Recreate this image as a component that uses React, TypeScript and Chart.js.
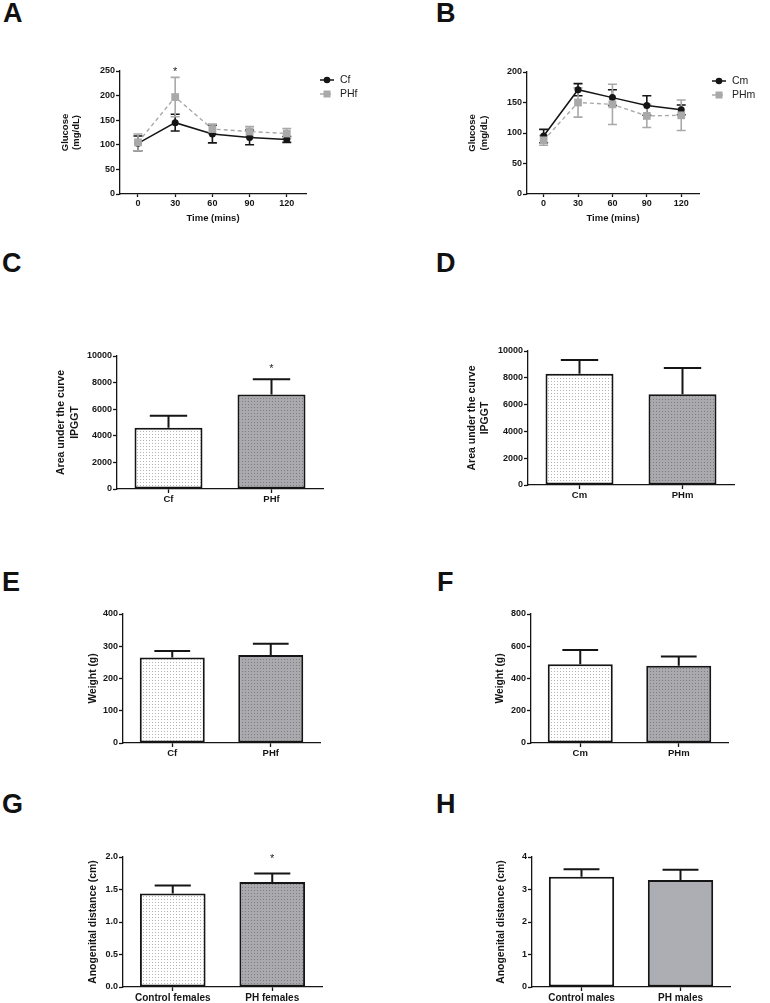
import React, { useEffect, useRef } from "react";
import { Chart, registerables } from "chart.js";
Chart.register(...registerables);

// ---------- data ----------
const TIMES = [0, 30, 60, 90, 120];

const CF_GLUCOSE = [103, 145, 122, 115, 111];
const CF_GLUCOSE_SEM = [15, 17, 18, 15, 6];
const PHF_GLUCOSE = [105, 197, 132, 127, 123];
const PHF_GLUCOSE_SEM = [17, 40, 10, 10, 10];
const PHF_GLUCOSE_SIG = [false, true, false, false, false];

const CM_GLUCOSE = [95, 171, 158, 145, 138];
const CM_GLUCOSE_SEM = [11, 10, 13, 16, 8];
const PHM_GLUCOSE = [88, 150, 147, 128, 129];
const PHM_GLUCOSE_SEM = [8, 24, 33, 19, 25];

const FEMALE_GROUPS = ["Cf", "PHf"];
const MALE_GROUPS = ["Cm", "PHm"];

const AUC_F = [4600, 7100];
const AUC_F_SEM = [900, 1150];
const AUC_F_SIG = [false, true];
const AUC_M = [8300, 6770];
const AUC_M_SEM = [1030, 1960];

const WEIGHT_F = [265, 273];
const WEIGHT_F_SEM = [20, 35];
const WEIGHT_M = [489, 479];
const WEIGHT_M_SEM = [87, 57];

const AGD_F_GROUPS = ["Control females", "PH females"];
const AGD_F = [1.44, 1.615];
const AGD_F_SEM = [0.12, 0.13];
const AGD_F_SIG = [false, true];
const AGD_M_GROUPS = ["Control males", "PH males"];
const AGD_M = [3.39, 3.29];
const AGD_M_SEM = [0.23, 0.32];

// ---------- style ----------
const FONT = "'Liberation Sans', Arial, Helvetica, sans-serif";
const INK = "#151515";
const GRAY = "#a9a9a9";
const PADL = 80;
const PADT = 22;
const PADB = 30;

type Area = { left: number; top: number; right: number; bottom: number };

function yAxis(max: number, step: number, title: any, titleSize: number, titlePad: number, fmt: (v: number) => string) {
  return {
    type: "linear",
    min: 0,
    max,
    ticks: {
      stepSize: step,
      color: INK,
      font: { family: FONT, size: 9, weight: "bold" },
      padding: 1,
      callback: (v: any) => fmt(Number(v)),
    },
    grid: { display: true, drawOnChartArea: false, drawTicks: true, tickLength: 4, tickWidth: 1.3, tickColor: INK },
    border: { display: true, color: INK, width: 1.3 },
    title: {
      display: true,
      text: title,
      color: INK,
      font: { family: FONT, size: titleSize, weight: "bold", lineHeight: 1.25 },
      padding: { top: titlePad, bottom: 0 },
    },
    afterFit: (s: any) => {
      s.width = PADL;
    },
  };
}

function catAxis(size: number) {
  return {
    type: "category",
    offset: true,
    ticks: { color: INK, font: { family: FONT, size, weight: "bold" }, padding: 1, maxRotation: 0, autoSkip: false },
    grid: { display: true, drawOnChartArea: false, offset: false, drawTicks: true, tickLength: 4, tickWidth: 1.3, tickColor: INK },
    border: { display: true, color: INK, width: 1.3 },
    afterFit: (s: any) => {
      s.height = PADB;
    },
  };
}

function timeAxis() {
  return {
    type: "linear",
    min: -14.5,
    max: 135.5,
    afterBuildTicks: (s: any) => {
      s.ticks = TIMES.map((v) => ({ value: v }));
    },
    ticks: { color: INK, font: { family: FONT, size: 9, weight: "bold" }, padding: 1 },
    grid: { display: true, drawOnChartArea: false, drawTicks: true, tickLength: 3, tickWidth: 1.3, tickColor: INK },
    border: { display: true, color: INK, width: 1.3 },
    title: {
      display: true,
      text: "Time (mins)",
      color: INK,
      font: { family: FONT, size: 9.5, weight: "bold", lineHeight: 1.25 },
      padding: { top: 0, bottom: 0 },
    },
    afterFit: (s: any) => {
      s.height = PADB;
    },
  };
}

function drawStar(ctx: any, x: number, cy: number) {
  const size = 11;
  ctx.save();
  ctx.fillStyle = "#222";
  ctx.font = `${size}px ${FONT}`;
  ctx.textAlign = "center";
  ctx.textBaseline = "alphabetic";
  ctx.fillText("*", x, cy + 0.57 * size);
  ctx.restore();
}

// error bars for bar charts (upper only) + asterisks
function barExtras(sem: number[], sig: boolean[] | null, starGap: number) {
  return {
    id: "barExtras",
    afterDatasetsDraw(chart: any) {
      const ctx = chart.ctx;
      const meta = chart.getDatasetMeta(0);
      const ys = chart.scales.y;
      const vals = chart.data.datasets[0].data;
      meta.data.forEach((el: any, i: number) => {
        const top = ys.getPixelForValue(vals[i] + sem[i]);
        const capW = el.width * 0.55;
        ctx.save();
        ctx.strokeStyle = INK;
        ctx.lineWidth = 2;
        ctx.beginPath();
        ctx.moveTo(el.x, el.y);
        ctx.lineTo(el.x, top);
        ctx.moveTo(el.x - capW / 2, top);
        ctx.lineTo(el.x + capW / 2, top);
        ctx.stroke();
        ctx.restore();
        if (sig && sig[i]) drawStar(ctx, el.x, top - starGap);
      });
    },
  };
}

// error bars for line charts (both directions), legend, asterisks
function lineExtras(sems: number[][], sig: boolean[] | null, sigSet: number, starGap: number, legendDx: number) {
  return {
    id: "lineExtras",
    beforeDatasetsDraw(chart: any) {
      const ctx = chart.ctx;
      const ys = chart.scales.y;
      chart.data.datasets.forEach((ds: any, di: number) => {
        const meta = chart.getDatasetMeta(di);
        ctx.save();
        ctx.strokeStyle = ds.borderColor;
        ctx.lineWidth = 1.6;
        meta.data.forEach((el: any, i: number) => {
          const v = ds.data[i].y;
          const hi = ys.getPixelForValue(v + sems[di][i]);
          const lo = ys.getPixelForValue(v - sems[di][i]);
          ctx.beginPath();
          ctx.moveTo(el.x, hi);
          ctx.lineTo(el.x, lo);
          ctx.moveTo(el.x - 4.5, hi);
          ctx.lineTo(el.x + 4.5, hi);
          ctx.moveTo(el.x - 4.5, lo);
          ctx.lineTo(el.x + 4.5, lo);
          ctx.stroke();
        });
        ctx.restore();
      });
    },
    afterDraw(chart: any) {
      const ctx = chart.ctx;
      const ys = chart.scales.y;
      const area = chart.chartArea;
      if (sig) {
        const ds = chart.data.datasets[sigSet];
        const meta = chart.getDatasetMeta(sigSet);
        meta.data.forEach((el: any, i: number) => {
          if (sig[i]) {
            const hi = ys.getPixelForValue(ds.data[i].y + sems[sigSet][i]);
            drawStar(ctx, el.x, hi - starGap);
          }
        });
      }
      chart.data.datasets.forEach((ds: any, di: number) => {
        const x0 = area.right + legendDx;
        const y = area.top + 9 + di * 14;
        ctx.save();
        ctx.strokeStyle = ds.borderColor;
        ctx.lineWidth = ds.borderWidth;
        ctx.setLineDash(ds.borderDash || []);
        ctx.beginPath();
        ctx.moveTo(x0, y);
        ctx.lineTo(x0 + 14, y);
        ctx.stroke();
        ctx.setLineDash([]);
        ctx.fillStyle = ds.borderColor;
        if (ds.pointStyle === "rect") {
          ctx.fillRect(x0 + 7 - 3.5, y - 3.5, 7, 7);
        } else {
          ctx.beginPath();
          ctx.arc(x0 + 7, y, 3.3, 0, Math.PI * 2);
          ctx.fill();
        }
        ctx.fillStyle = "#222";
        ctx.font = `10.5px ${FONT}`;
        ctx.textAlign = "left";
        ctx.textBaseline = "middle";
        ctx.fillText(ds.label, x0 + 20, y + 0.5);
        ctx.restore();
      });
    },
  };
}

function makePattern(ctx: any, bg: string, dot: string) {
  const c = document.createElement("canvas");
  c.width = 3;
  c.height = 3;
  const g = c.getContext("2d")!;
  g.fillStyle = bg;
  g.fillRect(0, 0, 3, 3);
  g.fillStyle = dot;
  g.fillRect(1, 1, 1, 1);
  return ctx.createPattern(c, "repeat");
}

function baseOptions(padR: number, scales: any) {
  return {
    responsive: false,
    maintainAspectRatio: false,
    animation: false,
    devicePixelRatio: 1,
    layout: { padding: { left: 0, top: PADT, right: padR, bottom: 0 } },
    plugins: { legend: { display: false }, tooltip: { enabled: false }, title: { display: false } },
    events: [],
    scales,
  };
}

type PanelDef = {
  area: Area;
  padR: number;
  build: (ctx: any) => any;
};

function lineBuild(labels: string[], c: number[], cSem: number[], p: number[], pSem: number[], max: number, sig: boolean[] | null, titlePad: number, legendDx: number) {
  return (_ctx: any) => ({
    type: "line",
    data: {
      datasets: [
        {
          label: labels[0],
          data: TIMES.map((t, i) => ({ x: t, y: c[i] })),
          borderColor: INK,
          backgroundColor: INK,
          borderWidth: 1.5,
          pointStyle: "circle",
          pointRadius: 3.5,
          pointBackgroundColor: INK,
          pointBorderColor: INK,
          pointBorderWidth: 0,
          tension: 0,
          order: 1,
        },
        {
          label: labels[1],
          data: TIMES.map((t, i) => ({ x: t, y: p[i] })),
          borderColor: GRAY,
          backgroundColor: GRAY,
          borderWidth: 1.4,
          borderDash: [4, 3],
          pointStyle: "rect",
          pointRadius: 5.5,
          pointBackgroundColor: GRAY,
          pointBorderColor: GRAY,
          pointBorderWidth: 0,
          tension: 0,
          order: 0,
        },
      ],
    },
    options: baseOptions(70, {
      x: timeAxis(),
      y: yAxis(max, 50, ["Glucose", "(mg/dL)"], 9.5, titlePad, (v) => String(v)),
    }),
    plugins: [lineExtras([cSem, pSem], sig, 1, 8.4, legendDx)],
  });
}

function barBuild(groups: string[], vals: number[], sem: number[], sig: boolean[] | null, starGap: number, max: number, step: number, title: any, titleSize: number, titlePad: number, fmt: (v: number) => string, catSize: number, plain: boolean) {
  return (ctx: any) => {
    const fills = plain
      ? ["#ffffff", "#adaeb3"]
      : [makePattern(ctx, "#ffffff", "#b4b4b4"), makePattern(ctx, "#a9a9ae", "#7d7d82")];
    return {
      type: "bar",
      data: {
        labels: groups,
        datasets: [
          {
            data: vals,
            backgroundColor: fills,
            borderColor: INK,
            borderWidth: 2,
            borderSkipped: false,
            categoryPercentage: 1,
            barPercentage: 0.66,
          },
        ],
      },
      options: baseOptions(30, {
        x: catAxis(catSize),
        y: yAxis(max, step, title, titleSize, titlePad, fmt),
      }),
      plugins: [barExtras(sem, sig, starGap)],
    };
  };
}

const intFmt = (v: number) => String(v);
const oneDec = (v: number) => v.toFixed(1);

const PANELS: PanelDef[] = [
  {
    area: { left: 120, top: 71, right: 306, bottom: 194 },
    padR: 70,
    build: lineBuild(FEMALE_GROUPS, CF_GLUCOSE, CF_GLUCOSE_SEM, PHF_GLUCOSE, PHF_GLUCOSE_SEM, 250, PHF_GLUCOSE_SIG, 19, 14),
  },
  {
    area: { left: 527, top: 72, right: 712, bottom: 194 },
    padR: 57,
    build: lineBuild(MALE_GROUPS, CM_GLUCOSE, CM_GLUCOSE_SEM, PHM_GLUCOSE, PHM_GLUCOSE_SEM, 200, null, 19.5, 13),
  },
  {
    area: { left: 117, top: 356, right: 323, bottom: 489 },
    padR: 30,
    build: barBuild(FEMALE_GROUPS, AUC_F, AUC_F_SEM, AUC_F_SIG, 13.5, 10000, 2000, ["Area under the curve", "IPGGT"], 10.5, 18, intFmt, 9.5, false),
  },
  {
    area: { left: 528, top: 351, right: 734, bottom: 485 },
    padR: 30,
    build: barBuild(MALE_GROUPS, AUC_M, AUC_M_SEM, null, 0, 10000, 2000, ["Area under the curve", "IPGGT"], 10.5, 17.6, intFmt, 9.5, false),
  },
  {
    area: { left: 123, top: 614, right: 320, bottom: 743 },
    padR: 30,
    build: barBuild(FEMALE_GROUPS, WEIGHT_F, WEIGHT_F_SEM, null, 0, 400, 100, "Weight (g)", 10.3, 43.5, intFmt, 9.5, false),
  },
  {
    area: { left: 531, top: 614, right: 728, bottom: 743 },
    padR: 30,
    build: barBuild(MALE_GROUPS, WEIGHT_M, WEIGHT_M_SEM, null, 0, 800, 200, "Weight (g)", 10.3, 43, intFmt, 9.5, false),
  },
  {
    area: { left: 123, top: 857, right: 322, bottom: 987 },
    padR: 30,
    build: barBuild(AGD_F_GROUPS, AGD_F, AGD_F_SEM, AGD_F_SIG, 18, 2, 0.5, "Anogenital distance (cm)", 10.4, 43.5, oneDec, 10, false),
  },
  {
    area: { left: 532, top: 857, right: 730, bottom: 987 },
    padR: 30,
    build: barBuild(AGD_M_GROUPS, AGD_M, AGD_M_SEM, null, 0, 4, 1, "Anogenital distance (cm)", 10.4, 43, intFmt, 10, true),
  },
];

const LETTERS = [
  { t: "A", x: 3, base: 23.3 },
  { t: "B", x: 436, base: 23.3 },
  { t: "C", x: 2, base: 273.3 },
  { t: "D", x: 436, base: 273.3 },
  { t: "E", x: 2, base: 591.7 },
  { t: "F", x: 437, base: 591.7 },
  { t: "G", x: 2, base: 814 },
  { t: "H", x: 436, base: 814 },
];

function Panel({ def }: { def: PanelDef }) {
  const ref = useRef<HTMLCanvasElement>(null);
  const { area, padR } = def;
  const w = area.right - area.left + PADL + padR;
  const h = area.bottom - area.top + PADT + PADB;
  useEffect(() => {
    const cv = ref.current!;
    const chart = new Chart(cv, def.build(cv.getContext("2d")));
    return () => chart.destroy();
  }, []);
  return (
    <canvas
      ref={ref}
      width={w}
      height={h}
      style={{ position: "absolute", left: area.left - PADL, top: area.top - PADT, width: w, height: h }}
    />
  );
}

export default function App() {
  const LETTER_SIZE = 27;
  return (
    <div style={{ position: "absolute", left: 0, top: 0, width: 770, height: 1003, background: "#fff", overflow: "hidden" }}>
      {LETTERS.map((l) => (
        <div
          key={l.t}
          style={{
            position: "absolute",
            left: l.x,
            top: l.base - 0.8465 * LETTER_SIZE,
            font: `bold ${LETTER_SIZE}px ${FONT}`,
            lineHeight: 1,
            color: "#111",
          }}
        >
          {l.t}
        </div>
      ))}
      {PANELS.map((p, i) => (
        <Panel key={i} def={p} />
      ))}
    </div>
  );
}
